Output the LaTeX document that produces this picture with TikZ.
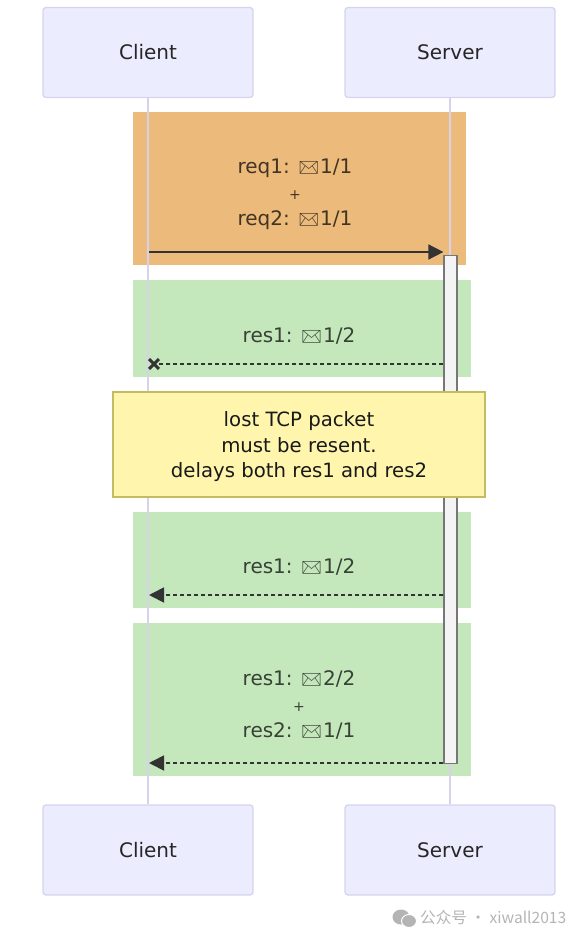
\documentclass[tikz,border=0pt]{standalone}
\usepackage{xcolor}
\usepackage{fontspec}
\usepackage{tikz}
\usetikzlibrary{calc,positioning,arrows.meta}
\setmainfont{DejaVu Sans}
\newfontfamily\cjkfont{Noto Sans CJK SC}
\newfontfamily\emojifont{Noto Emoji}
\definecolor{actorfill}{HTML}{ECECFF}
\definecolor{actorline}{HTML}{D6D3EC}
\definecolor{lifeline}{HTML}{D6D2EA}
\definecolor{reqtint}{HTML}{ECBB7C}
\definecolor{restint}{HTML}{C4E8BC}
\definecolor{notetint}{HTML}{FFF5AD}
\definecolor{noteline}{HTML}{C4BC62}
\definecolor{msgline}{HTML}{333333}
\definecolor{barfill}{HTML}{F4F4F4}
\definecolor{barline}{HTML}{777777}
\definecolor{marktint}{HTML}{B4B4B4}
\newcommand{\env}{{\emojifont\fontsize{16.5}{16}\selectfont ✉}\kern1pt}

\begin{document}
\begin{tikzpicture}[x=1pt,y=-1pt,
    actorbox/.style={draw=actorline,fill=actorfill,line width=1.3pt,rounded corners=3pt,minimum width=210pt,minimum height=90pt,font=\fontsize{20}{24}\selectfont,text=black!85,inner sep=0pt},
    tintbox/.style={fill=#1,minimum height=20pt,inner sep=0pt},
    msglabel/.style={font=\fontsize{20}{26}\selectfont,align=center,text=#1,inner sep=0pt},
    notebox/.style={draw=noteline,fill=notetint,line width=1.2pt,minimum width=372pt,minimum height=105pt,font=\fontsize{19.7}{25.5}\selectfont,align=center,text=black!90,inner sep=0pt},
    msg/.style={draw=msgline,line width=1.6pt},
    tipfull/.style={-{Triangle[length=15pt,width=15pt]}},
    tipcross/.style={-{Rays[n=4,length=14pt,width=14pt,line width=3pt]}},
    tightdash/.style={dash pattern=on 4pt off 3pt}]
    \useasboundingbox (0,0) rectangle (583,941);
    % tinted blocks
    \foreach \nm/\tint/\xa/\ya/\xb/\yb in {%
      reqband/reqtint/133/112/466/265, resbanda/restint/133/280/471/377,
      resbandb/restint/133/512/471/608, resbandc/restint/133/623/471/776%
    } {
      \node[tintbox=\tint,anchor=north west,minimum width={(\xb-\xa)*1pt},minimum height={(\yb-\ya)*1pt}] (\nm) at (\xa,\ya) {};
    }
    % actors and lifelines
    \node[actorbox] (clienttop) at (148,52.5) {Client};
    \node[actorbox] (servertop) at (450,52.5) {Server};
    \node[actorbox] (clientbot) at (148,850) {Client};
    \node[actorbox] (serverbot) at (450,850) {Server};
    \draw[lifeline,line width=2.6pt] (clienttop) -- (clientbot);
    \draw[lifeline,line width=2.6pt] (servertop) -- (serverbot);
    % activation
    \node[draw=barline,fill=barfill,line width=1.2pt,minimum width=13pt,minimum height=508pt,inner sep=0pt,anchor=north] (actbar) at (450.5,255) {};
    % messages
    \coordinate (reqend) at (149,252);
    \coordinate (lostend) at (148,364);
    \coordinate (resenda) at (149,595);
    \coordinate (resendb) at (149,763);
    \draw[msg,tipfull] (reqend) -- (actbar.west |- reqend);
    \draw[msg,tightdash,tipcross] (actbar.west |- lostend) -- (lostend);
    \draw[msg,tightdash,tipfull] (actbar.west |- resenda) -- (resenda);
    \draw[msg,tightdash,tipfull] (actbar.west |- resendb) -- (resendb);
    % labels
    \node[msglabel=black!72!reqtint] (reqlabel) at (295,194) {req1: \env1/1\\{\fontsize{14}{14}\selectfont +}\\req2: \env1/1};
    \node[msglabel=black!72!restint] (reslabela) at (299,336) {res1: \env1/2};
    \node[msglabel=black!72!restint] (reslabelb) at (299,567) {res1: \env1/2};
    \node[msglabel=black!72!restint] (reslabelc) at (299,705) {res1: \env2/2\\{\fontsize{14}{14}\selectfont +}\\res2: \env1/1};
    % note sits over the lifelines
    \node[notebox] (lostnote) at (299,444.5) {\rule{0pt}{20pt}lost TCP packet\\must be resent.\\delays both res1 and res2};
    % watermark
    \fill[marktint] (401,917) ellipse (8.5pt and 7.5pt);
    \fill[marktint,draw=white,line width=1pt] (409,921) ellipse (7.5pt and 6.5pt);
    \node[font=\fontsize{15.6}{18}\cjkfont,text=marktint,inner sep=0pt,anchor=west] (markname) at (420,918) {公众号 · xiwall2013};
\end{tikzpicture}
\end{document}
